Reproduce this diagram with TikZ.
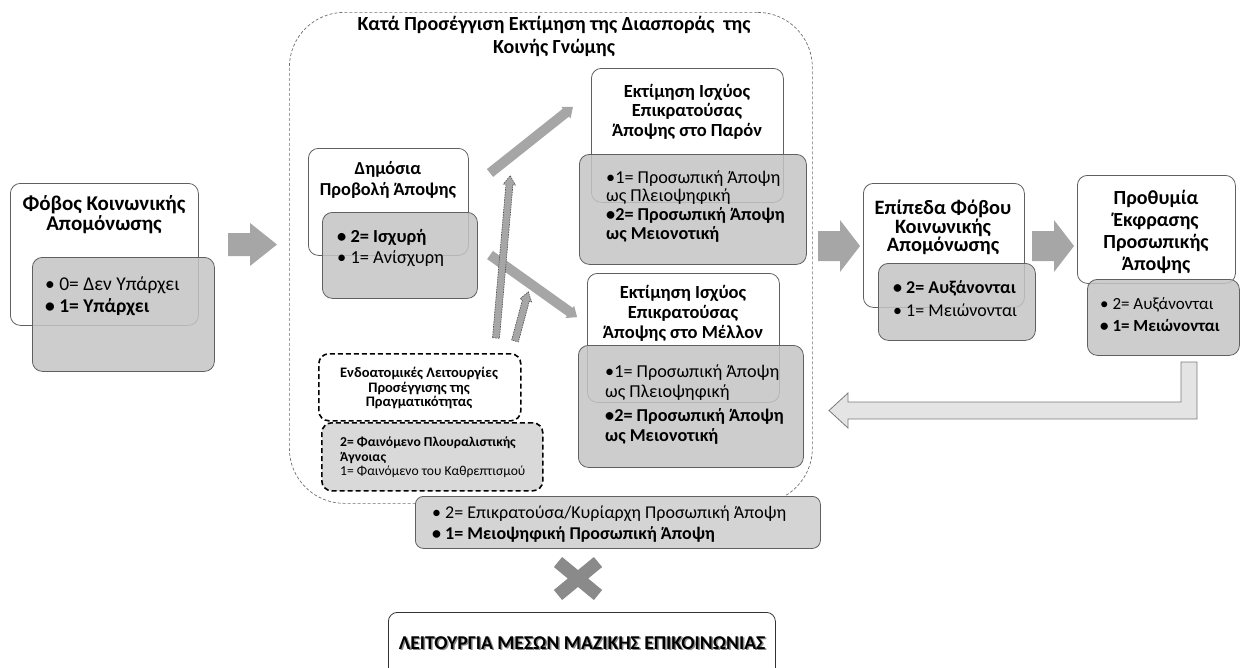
\documentclass[tikz,border=0pt]{standalone}
\usepackage{fontspec}
\setmainfont{Carlito}
\usetikzlibrary{calc}
\definecolor{boxline}{HTML}{606060}
\definecolor{gfill}{HTML}{C4C4C4}
\definecolor{barfill}{HTML}{D4D4D4}
\definecolor{dfill}{HTML}{D9D9D9}
\definecolor{agrey}{HTML}{A6A6A6}
\definecolor{xgrey}{HTML}{8A8A8A}
\definecolor{rfill}{HTML}{E4E4E4}
\definecolor{rline}{HTML}{7A7A7A}
\definecolor{cline}{HTML}{6E6E6E}
\tikzset{
  wbox/.style={draw=boxline, fill=white, rounded corners=10pt, line width=0.8pt, inner sep=0pt, anchor=north west},
  gbox/.style={draw=boxline, fill=gfill, fill opacity=0.85, rounded corners=10pt, line width=0.8pt, inner sep=0pt, anchor=north west},
  dwbox/.style={draw=black, fill=white, dashed, dash pattern=on 5pt off 3pt, rounded corners=10pt, line width=1.6pt, inner sep=0pt, anchor=north west},
  dgbox/.style={draw=black, fill=dfill, dash pattern=on 5pt off 3pt, rounded corners=10pt, line width=1.6pt, inner sep=0pt, anchor=north west},
  ttl/.style={font=\bfseries\fontsize{17}{20}\selectfont, align=center, inner sep=0pt, anchor=north},
  bul/.style={font=\fontsize{17}{21}\selectfont, align=left, inner sep=0pt, anchor=north west},
  pics/blockarrow/.style n args={4}{code={
    \path[pic actions] (0,-#2/2) -- ({#1-#4},-#2/2) -- ({#1-#4},-#3/2) -- (#1,0)
      -- ({#1-#4},#3/2) -- ({#1-#4},#2/2) -- (0,#2/2) -- cycle;
  }},
}
\begin{document}
\begin{tikzpicture}[x=1pt,y=-1pt]
\useasboundingbox (0,0) rectangle (1241,667);

% container
\node[draw=cline, dashed, dash pattern=on 3pt off 2pt, line width=0.7pt, rounded corners=55pt,
      minimum width=523pt, minimum height=491pt, anchor=north west, inner sep=0pt] (cont) at (289,12) {};
\node[font=\bfseries\fontsize{20}{23}\selectfont, align=center, inner sep=0pt, anchor=north] (contT) at (554,16)
  {Κατά Προσέγγιση Εκτίμηση της Διασποράς \ της\\Κοινής Γνώμης};

% big arrows
\coordinate (a1) at (228,244.5);
\coordinate (a2) at (818,246);
\coordinate (a3) at (1032,246);
\pic[fill=agrey] at (a1) {blockarrow={49}{23}{43}{27}};
\pic[fill=agrey] at (a2) {blockarrow={42}{30}{52}{20}};
\pic[fill=agrey] at (a3) {blockarrow={42}{30}{52}{20}};

% thin arrows from Δημόσια to the two estimates
\coordinate (t1) at (490,173);
\coordinate (t2) at (490,255);
\pic[fill=agrey, rotate=38.5] at (t1) {blockarrow={106}{10}{15}{9}};
\pic[fill=agrey, rotate=-35.5] at (t2) {blockarrow={107}{10}{15}{9}};

% dashed arrows from intra-individual functions
\coordinate (d1) at (496,338);
\coordinate (d2) at (515,341);
\pic[fill=agrey, draw=black!70, dash pattern=on 1.5pt off 1pt, line width=0.6pt, rotate=85] at (d1) {blockarrow={163}{7}{12}{9}};
\pic[fill=agrey, draw=black!70, dash pattern=on 1.5pt off 1pt, line width=0.6pt, rotate=75] at (d2) {blockarrow={51}{7}{12}{9}};

% return arrow
\coordinate (r0) at (1181,362);
\filldraw[fill=rfill, draw=rline, line width=0.8pt]
  (r0) -- (1197,362) -- (1197,419) -- (848,419) -- (848,428) -- (829,410.5) -- (848,393) -- (848,402) -- (1181,402) -- cycle;

% X
\draw[xgrey, line width=13pt] (558,562) -- (598,595) (558,595) -- (598,562);

% boxes
\node[wbox, minimum width=188pt, minimum height=142pt] (fobW) at (10,183) {};
\node[gbox, minimum width=182pt, minimum height=114pt] (fobG) at (32,257) {};
\node[wbox, minimum width=160pt, minimum height=107pt] (dimW) at (308,148) {};
\node[gbox, minimum width=155pt, minimum height=86pt] (dimG) at (322,212) {};
\node[wbox, minimum width=192pt, minimum height=134pt] (parW) at (591,68) {};
\node[gbox, minimum width=227pt, minimum height=110pt] (parG) at (579,154) {};
\node[wbox, minimum width=192pt, minimum height=129pt] (melW) at (587,273) {};
\node[gbox, minimum width=225pt, minimum height=122pt] (melG) at (578,345) {};
\node[wbox, minimum width=161pt, minimum height=124pt] (epiW) at (863,183) {};
\node[gbox, minimum width=157pt, minimum height=77pt] (epiG) at (878,263) {};
\node[wbox, minimum width=158pt, minimum height=108pt] (proW) at (1077,175) {};
\node[gbox, minimum width=152pt, minimum height=76pt] (proG) at (1087,279) {};
\node[dwbox, minimum width=202pt, minimum height=67pt] (endW) at (318,353) {};
\node[dgbox, minimum width=221pt, minimum height=68pt] (endG) at (321,422) {};
\node[draw=boxline, fill=barfill, rounded corners=8pt, line width=0.8pt, inner sep=0pt, anchor=north west,
      minimum width=405pt, minimum height=52pt] (bar) at (415,496) {};
\node[draw=black!80, fill=white, rounded corners=9pt, line width=0.8pt, inner sep=0pt, anchor=north west,
      minimum width=387pt, minimum height=90pt] (media) at (388,612) {};

% texts
\node[ttl, font=\bfseries\fontsize{21}{20}\selectfont] (fobT) at (104,195) {Φόβος Κοινωνικής\\Απομόνωσης};
\node[bul, font=\fontsize{19.5}{22}\selectfont] (fobB) at (45,277) {• 0= Δεν Υπάρχει\\\textbf{• 1= Υπάρχει}};

\node[ttl, font=\bfseries\fontsize{18.3}{21}\selectfont] (dimT) at (388,161) {Δημόσια\\Προβολή Άποψης};
\node[bul, font=\fontsize{18.4}{21}\selectfont] (dimB) at (337,229) {\textbf{• 2= Ισχυρή}\\• 1= Ανίσχυρη};

\node[ttl, font=\bfseries\fontsize{18.5}{19.5}\selectfont] (parT) at (687,84) {Εκτίμηση Ισχύος\\Επικρατούσας\\Άποψης στο Παρόν};
\node[bul, font=\fontsize{18.2}{18.5}\selectfont] (parB) at (606,170)
  {•1= Προσωπική Άποψη\\ως Πλειοψηφική\\[0.5pt]\textbf{•2= Προσωπική Άποψη}\\\textbf{ως Μειονοτική}};

\node[ttl, font=\bfseries\fontsize{18.5}{20}\selectfont] (melT) at (683,285) {Εκτίμηση Ισχύος\\Επικρατούσας\\Άποψης στο Μέλλον};
\node[bul, font=\fontsize{18.2}{20}\selectfont] (melB) at (605,364)
  {•1= Προσωπική Άποψη\\ως Πλειοψηφική\\[4pt]\textbf{•2= Προσωπική Άποψη}\\\textbf{ως Μειονοτική}};

\node[ttl, font=\bfseries\fontsize{20.4}{18.5}\selectfont] (epiT) at (943,200) {Επίπεδα Φόβου\\Κοινωνικής\\Απομόνωσης};
\node[bul, font=\fontsize{18}{23}\selectfont] (epiB) at (893,280) {\textbf{• 2= Αυξάνονται}\\• 1= Μειώνονται};

\node[ttl, font=\bfseries\fontsize{20}{22}\selectfont] (proT) at (1156,190) {Προθυμία\\Έκφρασης\\Προσωπικής\\Άποψης};
\node[bul, font=\fontsize{17}{22}\selectfont] (proB) at (1100,297) {• 2= Αυξάνονται\\\textbf{• 1= Μειώνονται}};

\node[ttl, font=\bfseries\fontsize{14.5}{14.5}\selectfont] (endT) at (419,367) {Ενδοατομικές Λειτουργίες\\Προσέγγισης της\\Πραγματικότητας};
\node[bul, font=\fontsize{13.6}{14.5}\selectfont] (endB) at (340,437)
  {\textbf{2= Φαινόμενο Πλουραλιστικής}\\\textbf{Άγνοιας}\\1= Φαινόμενο του Καθρεπτισμού};

\node[bul, font=\fontsize{18}{21}\selectfont] (barB) at (432,506)
  {• 2= Επικρατούσα/Κυρίαρχη Προσωπική Άποψη\\\textbf{• 1= Μειοψηφική Προσωπική Άποψη}};

\node[font=\bfseries\fontsize{19.6}{20}\selectfont, text=black!45, inner sep=0pt] (mediaS) at (583.5,644.5)
  {ΛΕΙΤΟΥΡΓΙΑ ΜΕΣΩΝ ΜΑΖΙΚΗΣ ΕΠΙΚΟΙΝΩΝΙΑΣ};
\node[font=\bfseries\fontsize{19.6}{20}\selectfont, inner sep=0pt] (mediaT) at (582,643)
  {ΛΕΙΤΟΥΡΓΙΑ ΜΕΣΩΝ ΜΑΖΙΚΗΣ ΕΠΙΚΟΙΝΩΝΙΑΣ};
\end{tikzpicture}
\end{document}
